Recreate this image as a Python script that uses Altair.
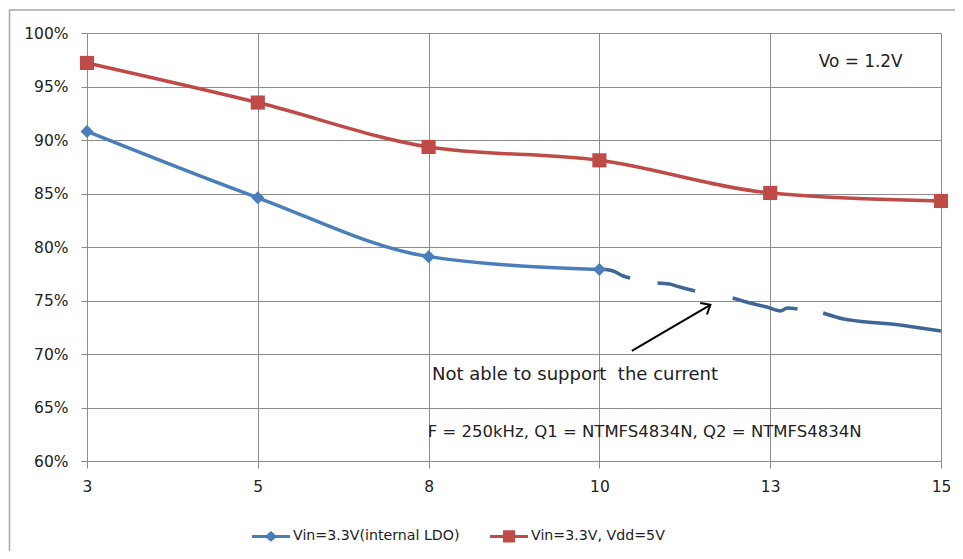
import json
import altair as alt
import pandas as pd

# ---------------- data ----------------
currents = ["3", "5", "8", "10", "13", "15"]
series_names = ["Vin=3.3V(internal LDO)", "Vin=3.3V, Vdd=5V"]
eff_ldo = [90.8, 84.6, 79.1, 77.9]                       # % at 3, 5, 8, 10
eff_vdd5 = [97.2, 93.5, 89.35, 88.1, 85.05, 84.3]        # % at 3 .. 15

# hand-drawn dashed continuation of the LDO curve (category position, %)
dash_seg = [1, 1, 1, 1, 2, 2, 2, 2, 3, 3, 3, 3, 3, 3, 4, 4, 4, 4, 4, 4]
dash_pos = [3.0, 3.08, 3.14, 3.18, 3.34, 3.41, 3.47, 3.56, 3.78, 3.88,
            3.98, 4.06, 4.10, 4.16, 4.31, 4.43, 4.51, 4.76, 4.84, 5.0]
dash_val = [77.94, 77.76, 77.29, 77.10, 76.64, 76.54, 76.26, 75.89, 75.23, 74.77,
            74.39, 74.02, 74.30, 74.21, 73.83, 73.27, 73.08, 72.71, 72.52, 72.15]

# annotations (category position, %)
note_text = ["Vo = 1.2V", "Not able to support\u00a0 the current",
             "F = 250kHz, Q1 = NTMFS4834N, Q2 = NTMFS4834N"]
note_pos = [4.53, 2.02, 1.995]
note_val = [97.3, 68.0, 62.7]
arrow_from = (3.19, 70.3)
arrow_to = (3.65, 74.6)

y_ticks = [60, 65, 70, 75, 80, 85, 90, 95, 100]

# ---------------- styles ----------------
BLUE = "#4A7EBB"
RED = "#BE4B48"
DASH = "#3F6697"
GRID = "#8C8C8C"
TXT = "#222222"
FONT = "DejaVu Sans"
W, H = 854, 428
NOTE_SIZES = [16.9, 18.0, 16.5]
NOTE_ALIGN = ["center", "left", "left"]

ldo_df = pd.DataFrame({"pos": list(range(len(eff_ldo))), "eff": eff_ldo})
vdd_df = pd.DataFrame({"pos": list(range(len(eff_vdd5))), "eff": eff_vdd5})
dash_df = pd.DataFrame({"seg": dash_seg, "pos": dash_pos, "eff": dash_val})
arrow_df = pd.DataFrame({"x": [arrow_from[0]], "y": [arrow_from[1]],
                         "x2": [arrow_to[0]], "y2": [arrow_to[1]]})
legend_df = pd.DataFrame({"series": series_names})

x_scale = alt.Scale(domain=[0, len(currents) - 1], nice=False, zero=False)
y_scale = alt.Scale(domain=[60, 100], nice=False, zero=False)

x_axis = alt.Axis(values=list(range(len(currents))),
                  labelExpr=json.dumps(currents) + "[datum.value]",
                  grid=True, gridColor=GRID, gridWidth=1, domain=False,
                  tickColor=GRID, tickSize=7, labelPadding=11, labelFlush=False,
                  labelFont=FONT, labelFontSize=15.5, labelColor=TXT, title=None)
y_axis = alt.Axis(values=y_ticks, labelExpr="datum.value + '%'",
                  grid=True, gridColor=GRID, gridWidth=1, domain=False,
                  tickColor=GRID, tickSize=6, labelPadding=13, labelFlush=False,
                  labelFont=FONT, labelFontSize=15.5, labelColor=TXT, title=None)

X = alt.X("pos:Q", scale=x_scale, axis=x_axis)
Y = alt.Y("eff:Q", scale=y_scale, axis=y_axis)
Xp = alt.X("pos:Q", scale=x_scale)
Yp = alt.Y("eff:Q", scale=y_scale)

frame = alt.Chart(pd.DataFrame({"k": [0]})).mark_rect(
    fill=None, stroke="#A6A6A6", strokeWidth=1.5
).encode(x=alt.value(-77.5), x2=alt.value(W + 60),
         y=alt.value(-23), y2=alt.value(H + 150))

ldo_line = alt.Chart(ldo_df).mark_line(
    color=BLUE, strokeWidth=3.5, interpolate="monotone").encode(x=X, y=Y)
ldo_pts = alt.Chart(ldo_df).mark_point(
    shape="diamond", filled=True, color=BLUE, size=170, opacity=1).encode(x=Xp, y=Yp)
dash_line = alt.Chart(dash_df).mark_line(
    color=DASH, strokeWidth=3.5, interpolate="monotone").encode(
    x=Xp, y=Yp, detail="seg:N")
vdd_line = alt.Chart(vdd_df).mark_line(
    color=RED, strokeWidth=3.5, interpolate="monotone").encode(x=Xp, y=Yp)
vdd_pts = alt.Chart(vdd_df).mark_point(
    shape="square", filled=True, color=RED, size=200, opacity=1).encode(x=Xp, y=Yp)

arrow_body = alt.Chart(arrow_df).mark_rule(color="black", strokeWidth=2).encode(
    x=alt.X("x:Q", scale=x_scale), y=alt.Y("y:Q", scale=y_scale),
    x2="x2:Q", y2="y2:Q")
arrow_head = alt.Chart(arrow_df).mark_point(
    shape="M-0.5,0.6L0,0L0.5,0.6", filled=False, stroke="black", strokeWidth=2,
    size=700, angle=59.5, opacity=1).encode(
    x=alt.X("x2:Q", scale=x_scale), y=alt.Y("y2:Q", scale=y_scale))

note_layers = []
for t, p, v, fs, al in zip(note_text, note_pos, note_val, NOTE_SIZES, NOTE_ALIGN):
    note_layers.append(
        alt.Chart(pd.DataFrame({"t": [t], "pos": [p], "eff": [v]})).mark_text(
            align=al, baseline="middle", font=FONT, fontSize=fs, color=TXT
        ).encode(x=Xp, y=Yp, text="t:N"))

leg = alt.Legend(orient="none", legendX=165, legendY=484, direction="horizontal",
                 title=None, symbolSize=1444, symbolStrokeWidth=0, symbolOpacity=1,
                 labelFont=FONT, labelFontSize=14.2, labelColor=TXT, labelLimit=400,
                 labelOffset=3, columnPadding=30)
blue_sym = "M-1,-0.08L1,-0.08L1,0.08L-1,0.08Z M-0.33,0L0,-0.28L0.33,0L0,0.28Z"
red_sym = "M-1,-0.08L1,-0.08L1,0.08L-1,0.08Z M-0.32,-0.32L0.32,-0.32L0.32,0.32L-0.32,0.32Z"
legend_layer = alt.Chart(legend_df).transform_filter("false").mark_point(
    filled=True).encode(
    x=alt.value(0), y=alt.value(0),
    color=alt.Color("series:N", scale=alt.Scale(domain=series_names, range=[BLUE, RED]),
                    legend=leg),
    shape=alt.Shape("series:N", scale=alt.Scale(domain=series_names, range=[blue_sym, red_sym]),
                    legend=leg))

chart = alt.layer(
    frame, ldo_line, dash_line, vdd_line, ldo_pts, vdd_pts,
    arrow_body, arrow_head, *note_layers, legend_layer
).properties(
    width=W, height=H,
    autosize=alt.AutoSizeParams(type="none"),
    padding={"left": 79, "top": 25, "right": 14, "bottom": 90},
).configure_view(stroke=None).configure(background="white")

chart.save("out.html", embed_options={"renderer": "svg", "actions": False})
